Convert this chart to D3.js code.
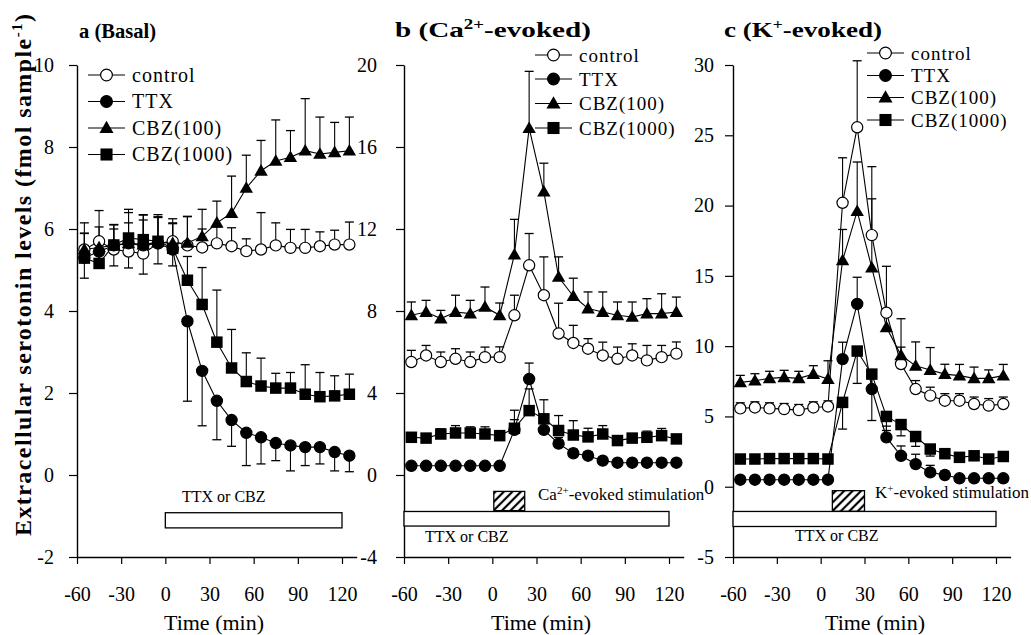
<!DOCTYPE html>
<html>
<head>
<meta charset="utf-8">
<script src="https://cdn.jsdelivr.net/npm/d3@7/dist/d3.min.js"></script>
<style>
  body { margin: 0; background: #fff; }
  svg { display: block; }
  text { font-family: "Liberation Serif", "Times New Roman", serif; fill: #000; }
</style>
</head>
<body>
<div id="chart"></div>
<script>
// sample times (min), plotted at the middle of each 10-min collection
const times = [-55, -45, -35, -25, -15, -5, 5, 15, 25, 35, 45, 55, 65, 75, 85, 95, 105, 115, 125];
const xTicks = [-60, -30, 0, 30, 60, 90, 120];
const seriesNames = ["control", "TTX", "CBZ(100)", "CBZ(1000)"];

// a (Basal)
const basalControl = [5.5, 5.7, 5.5, 5.45, 5.4, 5.65, 5.7, 5.6, 5.55, 5.65, 5.58, 5.46, 5.5, 5.6, 5.54, 5.54, 5.58, 5.62, 5.62];
const basalControlErr = [0.65, 0.75, 0.6, 0.95, 0.95, 0.7, 0.55, 0.7, 0.45, 0.4, 0.45, 0.3, 0.9, 0.55, 0.45, 0.45, 0.35, 0.35, 0.55];
const basalTTX = [5.3, 5.45, 5.6, 5.65, 5.6, 5.65, 5.5, 3.75, 2.54, 1.81, 1.34, 1.03, 0.92, 0.78, 0.72, 0.68, 0.68, 0.56, 0.47];
const basalTTXErr = [0.5, 0.3, 0.5, 0.6, 0.7, 0.5, 0.4, 1.95, 1.34, 0.95, 0.64, 0.8, 0.65, 0.43, 0.62, 0.45, 0.41, 0.46, 0.39];
const basalCBZ100 = [5.5, 5.55, 5.6, 5.65, 5.62, 5.68, 5.65, 5.66, 5.82, 6.15, 6.39, 7.0, 7.42, 7.66, 7.75, 7.91, 7.83, 7.87, 7.91];
const basalCBZ100Err = [0.4, 0.5, 0.4, 0.5, 0.6, 0.6, 0.5, 0.65, 0.66, 0.53, 0.9, 0.8, 0.74, 1.0, 0.65, 1.27, 0.9, 0.73, 0.82];
const basalCBZ1000 = [5.29, 5.16, 5.61, 5.78, 5.74, 5.7, 5.53, 4.75, 4.16, 3.24, 2.61, 2.28, 2.17, 2.12, 2.12, 1.97, 1.91, 1.93, 1.97];
const basalCBZ1000Err = [0.6, 0.55, 0.5, 0.7, 0.6, 0.6, 0.6, 0.58, 0.9, 1.27, 0.94, 0.7, 0.68, 0.36, 0.38, 0.72, 0.59, 0.49, 0.49];

// b (Ca2+-evoked)
const caControl = [5.51, 5.83, 5.51, 5.67, 5.51, 5.75, 5.75, 7.79, 10.23, 8.77, 6.9, 6.44, 6.16, 5.83, 5.67, 5.83, 5.59, 5.75, 5.92];
const caControlErr = [0.57, 0.49, 0.49, 0.49, 0.49, 0.49, 0.5, 0.98, 1.55, 1.87, 1.48, 0.86, 0.49, 0.65, 0.57, 0.57, 0.73, 0.57, 0.57];
const caTTX = [0.45, 0.45, 0.45, 0.45, 0.45, 0.45, 0.45, 2.2, 4.68, 2.2, 1.53, 1.06, 0.94, 0.7, 0.6, 0.6, 0.6, 0.6, 0.6];
const caTTXErr = [0.1, 0.1, 0.1, 0.1, 0.1, 0.1, 0.1, 0.5, 0.78, 0.5, 0.3, 0.2, 0.2, 0.15, 0.1, 0.1, 0.1, 0.1, 0.1];
const caCBZ100 = [7.79, 7.95, 7.63, 7.95, 7.87, 8.2, 7.79, 10.75, 16.92, 13.82, 9.66, 8.72, 8.12, 7.95, 7.79, 7.71, 7.87, 7.87, 7.95];
const caCBZ100Err = [0.65, 0.57, 0.4, 0.82, 0.65, 0.97, 0.6, 1.72, 2.77, 1.39, 0.98, 0.88, 0.81, 0.98, 0.65, 0.73, 0.73, 0.97, 0.73];
const caCBZ1000 = [1.84, 1.8, 2.0, 2.05, 2.05, 2.0, 1.92, 2.28, 3.14, 2.74, 2.17, 1.95, 1.86, 2.0, 1.68, 1.8, 1.84, 1.92, 1.76];
const caCBZ1000Err = [0.15, 0.15, 0.25, 0.36, 0.3, 0.35, 0.15, 0.88, 1.06, 0.93, 0.73, 0.7, 0.42, 0.41, 0.2, 0.2, 0.3, 0.35, 0.2];

// c (K+-evoked)
const kControl = [5.57, 5.64, 5.57, 5.52, 5.45, 5.64, 5.71, 20.2, 25.57, 17.9, 12.38, 8.73, 6.95, 6.48, 6.12, 6.12, 5.88, 5.77, 5.88];
const kControlErr = [0.4, 0.4, 0.4, 0.4, 0.4, 0.4, 0.4, 3.2, 4.73, 4.87, 3.3, 1.2, 0.6, 0.6, 0.5, 0.5, 0.5, 0.5, 0.5];
const kTTX = [0.5, 0.5, 0.5, 0.5, 0.5, 0.5, 0.5, 9.08, 13.0, 6.95, 3.51, 2.2, 1.61, 1.02, 0.83, 0.6, 0.6, 0.6, 0.6];
const kTTXErr = [0.2, 0.2, 0.2, 0.2, 0.2, 0.2, 0.2, 1.2, 1.9, 0.8, 0.8, 0.7, 0.7, 0.5, 0.3, 0.2, 0.2, 0.2, 0.2];
const kCBZ100 = [7.42, 7.54, 7.71, 7.78, 7.71, 8.01, 7.66, 16.1, 19.6, 15.58, 11.34, 9.35, 8.6, 8.3, 8.01, 7.9, 7.71, 7.71, 7.9];
const kCBZ100Err = [0.5, 0.5, 0.5, 0.5, 0.5, 0.6, 1.3, 2.2, 3.5, 4.9, 1.0, 2.6, 1.7, 1.6, 0.7, 0.8, 0.8, 0.6, 0.8];
const kCBZ1000 = [1.97, 1.97, 2.0, 2.0, 2.0, 2.0, 1.97, 6.0, 9.65, 8.01, 5.0, 4.42, 3.57, 2.68, 2.35, 2.09, 2.2, 1.97, 2.15];
const kCBZ1000Err = [0.2, 0.2, 0.2, 0.2, 0.2, 0.2, 0.2, 1.9, 2.3, 3.3, 1.0, 0.8, 0.7, 0.5, 0.3, 0.2, 0.2, 0.2, 0.2];

// treatment bars: [start, end] in min
const basalDrugPeriod = [0, 120];
const evokedDrugPeriod = [-60, 120];
const caStimulation = [1, 22];
const kStimulation = [8, 30];

const W = 1031, H = 635;
const plotTop = 65, plotBottom = 557;

const svg = d3.select("#chart").append("svg")
  .attr("width", W).attr("height", H);

// hatch for the stimulation box
svg.append("defs").append("pattern")
  .attr("id", "hatch")
  .attr("patternUnits", "userSpaceOnUse")
  .attr("width", 6).attr("height", 6)
  .attr("patternTransform", "rotate(45)")
  .append("line")
  .attr("x1", 2).attr("y1", 0).attr("x2", 2).attr("y2", 6)
  .attr("stroke", "#000").attr("stroke-width", 2.2);

const panels = [
  {
    key: "a", titleParts: [["a (Basal)", false]],
    titleX: 79, titleY: 38, titleWidth: 77,
    x0: 77, x120: 342, yDomain: [-2, 10], yTicks: [-2, 0, 2, 4, 6, 8, 10], yPad: 15,
    timeLabelX: 214,
    series: [
      { values: basalControl, err: basalControlErr, dir: -1 },
      { values: basalTTX, err: basalTTXErr, dir: 1 },
      { values: basalCBZ100, err: basalCBZ100Err, dir: -1 },
      { values: basalCBZ1000, err: basalCBZ1000Err, dir: -1 }
    ],
    legend: { x: 88, rows: [75, 101.5, 128, 154.5], size: 20 },
    drug: { period: basalDrugPeriod, y: [-0.92, -1.29], labelX: 182, labelY: 502 },
    stim: null
  },
  {
    key: "b", titleParts: [["b (Ca", false], ["2+", true], ["-evoked)", false]],
    titleX: 395, titleY: 37, titleWidth: 196,
    x0: 404, x120: 669, yDomain: [-4, 20], yTicks: [-4, 0, 4, 8, 12, 16, 20], yPad: 19,
    timeLabelX: 541,
    series: [
      { values: caControl, err: caControlErr, dir: -1 },
      { values: caTTX, err: caTTXErr, dir: -1 },
      { values: caCBZ100, err: caCBZ100Err, dir: -1 },
      { values: caCBZ1000, err: caCBZ1000Err, dir: -1 }
    ],
    legend: { x: 535, rows: [55, 79, 103.5, 128], size: 19 },
    drug: { period: evokedDrugPeriod, y: [-1.78, -2.49], labelX: 425, labelY: 542 },
    stim: { range: caStimulation, y: [-0.8, -1.74], labelParts: [["Ca", false], ["2+", true], ["-evoked stimulation", false]], labelX: 538, labelY: 500 }
  },
  {
    key: "c", titleParts: [["c (K", false], ["+", true], ["-evoked)", false]],
    titleX: 724, titleY: 37, titleWidth: 158,
    x0: 733, x120: 996, yDomain: [-5, 30], yTicks: [-5, 0, 5, 10, 15, 20, 25, 30], yPad: 11,
    timeLabelX: 875,
    series: [
      { values: kControl, err: kControlErr, dir: -1 },
      { values: kTTX, err: kTTXErr, dir: -1 },
      { values: kCBZ100, err: kCBZ100Err, dir: -1 },
      { values: kCBZ1000, err: kCBZ1000Err, dir: 1 }
    ],
    legend: { x: 867, rows: [53, 75.5, 97.5, 120], size: 19 },
    drug: { period: evokedDrugPeriod, y: [-1.76, -2.83], labelX: 795, labelY: 541 },
    stim: { range: kStimulation, y: [-0.28, -1.75], labelParts: [["K", false], ["+", true], ["-evoked stimulation", false]], labelX: 875, labelY: 498 }
  }
];

// marker drawing by series index: open circle, filled circle, triangle, square
function drawMarker(g, idx, cx, cy, scale) {
  const s = scale || 1;
  if (idx === 0 || idx === 1) {
    g.append("circle").attr("cx", cx).attr("cy", cy).attr("r", 5.6 * s)
      .attr("fill", idx === 0 ? "#fff" : "#000")
      .attr("stroke", "#000").attr("stroke-width", 1.2);
  } else if (idx === 2) {
    g.append("path")
      .attr("d", d3.symbol(d3.symbolTriangle, 78 * s * s)())
      .attr("transform", `translate(${cx},${cy + 1})`)
      .attr("fill", "#000");
  } else {
    const a = 11.5 * s;
    g.append("rect").attr("x", cx - a / 2).attr("y", cy - a / 2)
      .attr("width", a).attr("height", a).attr("fill", "#000");
  }
}

function richText(parent, parts, x, y, size, weight) {
  const t = parent.append("text").attr("x", x).attr("y", y)
    .style("font-size", size + "px").style("font-weight", weight || "normal");
  let wasSup = false;
  parts.forEach(([str, sup]) => {
    const ts = t.append("tspan").text(str);
    if (sup && !wasSup) ts.attr("dy", -size * 0.38).style("font-size", (size * 0.65) + "px");
    if (!sup && wasSup) ts.attr("dy", size * 0.38);
    wasSup = sup;
  });
  return t;
}

panels.forEach(p => {
  const pxPerMin = (p.x120 - p.x0) / 180;
  const x = d3.scaleLinear().domain([-60, 130]).range([p.x0, p.x0 + 190 * pxPerMin]);
  const y = d3.scaleLinear().domain(p.yDomain).range([plotBottom, plotTop]);
  const g = svg.append("g").attr("class", "panel-" + p.key);

  // axes (plain hyphen minus, like the original)
  const yAxis = g.append("g").attr("transform", `translate(${p.x0},0)`)
    .call(d3.axisLeft(y).tickValues(p.yTicks).tickFormat(d => String(d))
      .tickSize(8).tickSizeOuter(0).tickPadding(p.yPad));
  const xAxis = g.append("g").attr("transform", `translate(0,${plotBottom})`)
    .call(d3.axisBottom(x).tickValues(xTicks).tickFormat(d => String(d))
      .tickSize(7).tickSizeOuter(0).tickPadding(23));
  [yAxis, xAxis].forEach(ax => {
    ax.select(".domain").attr("stroke-width", 1.4);
    ax.selectAll(".tick line").attr("stroke-width", 1.2);
    ax.selectAll(".tick text")
      .style("font-family", '"Liberation Serif", "Times New Roman", serif')
      .style("font-size", "20px").attr("fill", "#000");
  });

  // title, stretched to the width of the original lettering
  richText(g, p.titleParts, p.titleX, p.titleY, 21, "bold")
    .attr("textLength", p.titleWidth).attr("lengthAdjust", "spacingAndGlyphs");

  // x axis title
  g.append("text").attr("x", p.timeLabelX).attr("y", 630)
    .attr("text-anchor", "middle").style("font-size", "22px").text("Time (min)");

  // drug application bar
  g.append("rect")
    .attr("x", x(p.drug.period[0])).attr("y", y(p.drug.y[0]))
    .attr("width", x(p.drug.period[1]) - x(p.drug.period[0]))
    .attr("height", y(p.drug.y[1]) - y(p.drug.y[0]))
    .attr("fill", "#fff").attr("stroke", "#000").attr("stroke-width", 1.3);
  g.append("text").attr("x", p.drug.labelX).attr("y", p.drug.labelY)
    .style("font-size", "16px").text("TTX or CBZ");

  if (p.stim) {
    g.append("rect")
      .attr("x", x(p.stim.range[0])).attr("y", y(p.stim.y[0]))
      .attr("width", x(p.stim.range[1]) - x(p.stim.range[0]))
      .attr("height", y(p.stim.y[1]) - y(p.stim.y[0]))
      .attr("fill", "url(#hatch)").attr("stroke", "#000").attr("stroke-width", 1.3);
    richText(g, p.stim.labelParts, p.stim.labelX, p.stim.labelY, 17);
  }

  // series: lines, error bars, markers
  p.series.forEach(s => {
    const pts = times.map((t, i) => ({ t, v: s.values[i], e: s.err[i] }));
    g.append("path").datum(pts)
      .attr("d", d3.line().x(d => x(d.t)).y(d => y(d.v)))
      .attr("fill", "none").attr("stroke", "#000").attr("stroke-width", 1.1);
    const eb = g.append("g");
    pts.forEach(d => {
      const xe = x(d.t), y1 = y(d.v), y2 = y(d.v - s.dir * d.e);
      eb.append("line").attr("x1", xe).attr("x2", xe).attr("y1", y1).attr("y2", y2)
        .attr("stroke", "#000").attr("stroke-width", 1.1);
      eb.append("line").attr("x1", xe - 4.5).attr("x2", xe + 4.5).attr("y1", y2).attr("y2", y2)
        .attr("stroke", "#000").attr("stroke-width", 1.3);
    });
  });
  p.series.forEach((s, si) => {
    const mg = g.append("g");
    times.forEach((t, i) => drawMarker(mg, si, x(t), y(s.values[i])));
  });

  // legend
  const lg = g.append("g");
  seriesNames.forEach((name, i) => {
    const ly = p.legend.rows[i];
    lg.append("line").attr("x1", p.legend.x).attr("x2", p.legend.x + 37)
      .attr("y1", ly).attr("y2", ly).attr("stroke", "#000").attr("stroke-width", 1.1);
    drawMarker(lg, i, p.legend.x + 18.5, ly, 1.05);
    lg.append("text").attr("x", p.legend.x + 44).attr("y", ly + 6.5)
      .style("font-size", p.legend.size + "px").style("letter-spacing", "1px").text(name);
  });
});

// shared y-axis title
const yTitle = svg.append("text")
  .attr("transform", "translate(31,275) rotate(-90)")
  .attr("text-anchor", "middle")
  .attr("textLength", 522).attr("lengthAdjust", "spacing")
  .style("font-size", "24px").style("font-weight", "bold");
yTitle.append("tspan").text("Extracellular serotonin levels (fmol sample");
yTitle.append("tspan").attr("dy", -9).style("font-size", "15px").text("-1");
yTitle.append("tspan").attr("dy", 9).text(")");
</script>
</body>
</html>
